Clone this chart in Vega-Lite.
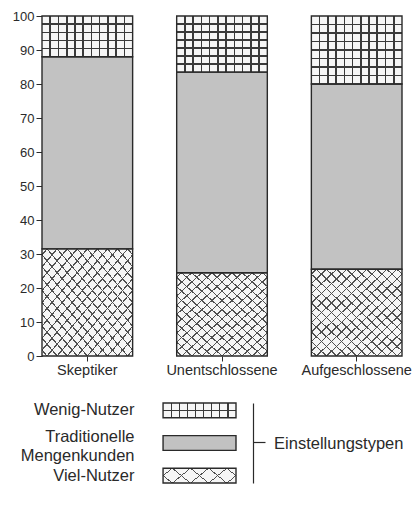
{
  "$schema": "https://vega.github.io/schema/vega-lite/v6.json",
  "background": "white",
  "padding": {"left": 12, "top": 10, "right": 0, "bottom": 5},
  "spacing": 24,
  "config": {
    "view": {"stroke": null},
    "font": "Liberation Sans",
    "axis": {"labelColor": "#2a2a2a", "titleColor": "#2a2a2a", "domainColor": "#2a2a2a", "tickColor": "#2a2a2a", "labelFont": "Liberation Sans", "titleFont": "Liberation Sans"}
  },
  "vconcat": [
    {
      "width": 360,
      "height": 340,
      "data": {"values": [
        {"group": "Skeptiker", "type": "Viel-Nutzer", "value": 31.5},
        {"group": "Skeptiker", "type": "Traditionelle Mengenkunden", "value": 56.5},
        {"group": "Skeptiker", "type": "Wenig-Nutzer", "value": 12},
        {"group": "Unentschlossene", "type": "Viel-Nutzer", "value": 24.5},
        {"group": "Unentschlossene", "type": "Traditionelle Mengenkunden", "value": 59},
        {"group": "Unentschlossene", "type": "Wenig-Nutzer", "value": 16.5},
        {"group": "Aufgeschlossene", "type": "Viel-Nutzer", "value": 25.5},
        {"group": "Aufgeschlossene", "type": "Traditionelle Mengenkunden", "value": 54.5},
        {"group": "Aufgeschlossene", "type": "Wenig-Nutzer", "value": 20}
      ]},
      "transform": [
        {"calculate": "indexof(['Viel-Nutzer','Traditionelle Mengenkunden','Wenig-Nutzer'], datum.type)", "as": "ord"},
        {"stack": "value", "groupby": ["group"], "sort": [{"field": "ord", "order": "ascending"}], "as": ["v0", "v1"]}
      ],
      "encoding": {
        "x": {
          "field": "group", "type": "nominal",
          "sort": ["Skeptiker", "Unentschlossene", "Aufgeschlossene"],
          "scale": {"paddingInner": 0.327, "paddingOuter": 0},
          "axis": {"title": null, "labelAngle": 0, "domain": false, "tickSize": 5, "labelPadding": 2, "labelFontSize": 14.5}
        },
        "y": {
          "field": "v0", "type": "quantitative",
          "scale": {"domain": [0, 100], "nice": false},
          "axis": {"title": null, "values": [0, 10, 20, 30, 40, 50, 60, 70, 80, 90, 100], "grid": false, "tickSize": 6, "labelPadding": 2, "labelFontSize": 13}
        },
        "y2": {"field": "v1"}
      },
      "layer": [
        {
          "mark": {"type": "bar"},
          "encoding": {
            "fill": {
              "field": "type", "type": "nominal",
              "scale": {"domain": ["Wenig-Nutzer", "Traditionelle Mengenkunden", "Viel-Nutzer"], "range": ["#f6f6f6", "#c2c2c2", "#f6f6f6"]},
              "legend": null
            }
          }
        },
        {
          "transform": [{"filter": "datum.type === 'Wenig-Nutzer'"}],
          "mark": {"type": "bar", "fill": {"gradient": "linear", "x1": 0, "y1": 0, "x2": 1, "y2": 0, "stops": [
            {"offset": 0, "color": "rgba(58,58,58,0)"},
            {"offset": 0.0819, "color": "rgba(58,58,58,0)"}, {"offset": 0.0819, "color": "#3a3a3a"}, {"offset": 0.0999, "color": "#3a3a3a"}, {"offset": 0.0999, "color": "rgba(58,58,58,0)"},
            {"offset": 0.1728, "color": "rgba(58,58,58,0)"}, {"offset": 0.1728, "color": "#3a3a3a"}, {"offset": 0.1908, "color": "#3a3a3a"}, {"offset": 0.1908, "color": "rgba(58,58,58,0)"},
            {"offset": 0.2637, "color": "rgba(58,58,58,0)"}, {"offset": 0.2637, "color": "#3a3a3a"}, {"offset": 0.2817, "color": "#3a3a3a"}, {"offset": 0.2817, "color": "rgba(58,58,58,0)"},
            {"offset": 0.3546, "color": "rgba(58,58,58,0)"}, {"offset": 0.3546, "color": "#3a3a3a"}, {"offset": 0.3726, "color": "#3a3a3a"}, {"offset": 0.3726, "color": "rgba(58,58,58,0)"},
            {"offset": 0.4455, "color": "rgba(58,58,58,0)"}, {"offset": 0.4455, "color": "#3a3a3a"}, {"offset": 0.4635, "color": "#3a3a3a"}, {"offset": 0.4635, "color": "rgba(58,58,58,0)"},
            {"offset": 0.5365, "color": "rgba(58,58,58,0)"}, {"offset": 0.5365, "color": "#3a3a3a"}, {"offset": 0.5545, "color": "#3a3a3a"}, {"offset": 0.5545, "color": "rgba(58,58,58,0)"},
            {"offset": 0.6274, "color": "rgba(58,58,58,0)"}, {"offset": 0.6274, "color": "#3a3a3a"}, {"offset": 0.6454, "color": "#3a3a3a"}, {"offset": 0.6454, "color": "rgba(58,58,58,0)"},
            {"offset": 0.7183, "color": "rgba(58,58,58,0)"}, {"offset": 0.7183, "color": "#3a3a3a"}, {"offset": 0.7363, "color": "#3a3a3a"}, {"offset": 0.7363, "color": "rgba(58,58,58,0)"},
            {"offset": 0.8092, "color": "rgba(58,58,58,0)"}, {"offset": 0.8092, "color": "#3a3a3a"}, {"offset": 0.8272, "color": "#3a3a3a"}, {"offset": 0.8272, "color": "rgba(58,58,58,0)"},
            {"offset": 0.9001, "color": "rgba(58,58,58,0)"}, {"offset": 0.9001, "color": "#3a3a3a"}, {"offset": 0.9181, "color": "#3a3a3a"}, {"offset": 0.9181, "color": "rgba(58,58,58,0)"},
            {"offset": 1, "color": "rgba(58,58,58,0)"}
          ]}}
        },
        {
          "transform": [{"filter": "datum.type === 'Wenig-Nutzer' && datum.group === 'Skeptiker'"}],
          "mark": {"type": "bar", "fill": {"gradient": "linear", "x1": 0, "y1": 0, "x2": 0, "y2": 1, "stops": [
            {"offset": 0, "color": "rgba(58,58,58,0)"},
            {"offset": 0.18, "color": "rgba(58,58,58,0)"}, {"offset": 0.18, "color": "#3a3a3a"}, {"offset": 0.22, "color": "#3a3a3a"}, {"offset": 0.22, "color": "rgba(58,58,58,0)"},
            {"offset": 0.38, "color": "rgba(58,58,58,0)"}, {"offset": 0.38, "color": "#3a3a3a"}, {"offset": 0.42, "color": "#3a3a3a"}, {"offset": 0.42, "color": "rgba(58,58,58,0)"},
            {"offset": 0.58, "color": "rgba(58,58,58,0)"}, {"offset": 0.58, "color": "#3a3a3a"}, {"offset": 0.62, "color": "#3a3a3a"}, {"offset": 0.62, "color": "rgba(58,58,58,0)"},
            {"offset": 0.78, "color": "rgba(58,58,58,0)"}, {"offset": 0.78, "color": "#3a3a3a"}, {"offset": 0.82, "color": "#3a3a3a"}, {"offset": 0.82, "color": "rgba(58,58,58,0)"},
            {"offset": 1, "color": "rgba(58,58,58,0)"}
          ]}}
        },
        {
          "transform": [{"filter": "datum.type === 'Wenig-Nutzer' && datum.group === 'Unentschlossene'"}],
          "mark": {"type": "bar", "fill": {"gradient": "linear", "x1": 0, "y1": 0, "x2": 0, "y2": 1, "stops": [
            {"offset": 0, "color": "rgba(58,58,58,0)"},
            {"offset": 0.1289, "color": "rgba(58,58,58,0)"}, {"offset": 0.1289, "color": "#3a3a3a"}, {"offset": 0.1569, "color": "#3a3a3a"}, {"offset": 0.1569, "color": "rgba(58,58,58,0)"},
            {"offset": 0.2717, "color": "rgba(58,58,58,0)"}, {"offset": 0.2717, "color": "#3a3a3a"}, {"offset": 0.2997, "color": "#3a3a3a"}, {"offset": 0.2997, "color": "rgba(58,58,58,0)"},
            {"offset": 0.4146, "color": "rgba(58,58,58,0)"}, {"offset": 0.4146, "color": "#3a3a3a"}, {"offset": 0.4426, "color": "#3a3a3a"}, {"offset": 0.4426, "color": "rgba(58,58,58,0)"},
            {"offset": 0.5574, "color": "rgba(58,58,58,0)"}, {"offset": 0.5574, "color": "#3a3a3a"}, {"offset": 0.5854, "color": "#3a3a3a"}, {"offset": 0.5854, "color": "rgba(58,58,58,0)"},
            {"offset": 0.7003, "color": "rgba(58,58,58,0)"}, {"offset": 0.7003, "color": "#3a3a3a"}, {"offset": 0.7283, "color": "#3a3a3a"}, {"offset": 0.7283, "color": "rgba(58,58,58,0)"},
            {"offset": 0.8431, "color": "rgba(58,58,58,0)"}, {"offset": 0.8431, "color": "#3a3a3a"}, {"offset": 0.8711, "color": "#3a3a3a"}, {"offset": 0.8711, "color": "rgba(58,58,58,0)"},
            {"offset": 1, "color": "rgba(58,58,58,0)"}
          ]}}
        },
        {
          "transform": [{"filter": "datum.type === 'Wenig-Nutzer' && datum.group === 'Aufgeschlossene'"}],
          "mark": {"type": "bar", "fill": {"gradient": "linear", "x1": 0, "y1": 0, "x2": 0, "y2": 1, "stops": [
            {"offset": 0, "color": "rgba(58,58,58,0)"},
            {"offset": 0.1135, "color": "rgba(58,58,58,0)"}, {"offset": 0.1135, "color": "#3a3a3a"}, {"offset": 0.1365, "color": "#3a3a3a"}, {"offset": 0.1365, "color": "rgba(58,58,58,0)"},
            {"offset": 0.2385, "color": "rgba(58,58,58,0)"}, {"offset": 0.2385, "color": "#3a3a3a"}, {"offset": 0.2615, "color": "#3a3a3a"}, {"offset": 0.2615, "color": "rgba(58,58,58,0)"},
            {"offset": 0.3635, "color": "rgba(58,58,58,0)"}, {"offset": 0.3635, "color": "#3a3a3a"}, {"offset": 0.3865, "color": "#3a3a3a"}, {"offset": 0.3865, "color": "rgba(58,58,58,0)"},
            {"offset": 0.4885, "color": "rgba(58,58,58,0)"}, {"offset": 0.4885, "color": "#3a3a3a"}, {"offset": 0.5115, "color": "#3a3a3a"}, {"offset": 0.5115, "color": "rgba(58,58,58,0)"},
            {"offset": 0.6135, "color": "rgba(58,58,58,0)"}, {"offset": 0.6135, "color": "#3a3a3a"}, {"offset": 0.6365, "color": "#3a3a3a"}, {"offset": 0.6365, "color": "rgba(58,58,58,0)"},
            {"offset": 0.7385, "color": "rgba(58,58,58,0)"}, {"offset": 0.7385, "color": "#3a3a3a"}, {"offset": 0.7615, "color": "#3a3a3a"}, {"offset": 0.7615, "color": "rgba(58,58,58,0)"},
            {"offset": 0.8635, "color": "rgba(58,58,58,0)"}, {"offset": 0.8635, "color": "#3a3a3a"}, {"offset": 0.8865, "color": "#3a3a3a"}, {"offset": 0.8865, "color": "rgba(58,58,58,0)"},
            {"offset": 1, "color": "rgba(58,58,58,0)"}
          ]}}
        },
        {
          "transform": [{"filter": "datum.type === 'Viel-Nutzer'"}],
          "mark": {"type": "bar", "fill": {"gradient": "linear", "x1": 0, "y1": 0, "x2": 1, "y2": 1, "stops": [
            {"offset": 0, "color": "rgba(80,80,80,0)"},
            {"offset": 0.0238, "color": "rgba(80,80,80,0)"}, {"offset": 0.0238, "color": "#505050"}, {"offset": 0.0318, "color": "#505050"}, {"offset": 0.0318, "color": "rgba(80,80,80,0)"},
            {"offset": 0.0793, "color": "rgba(80,80,80,0)"}, {"offset": 0.0793, "color": "#505050"}, {"offset": 0.0873, "color": "#505050"}, {"offset": 0.0873, "color": "rgba(80,80,80,0)"},
            {"offset": 0.1349, "color": "rgba(80,80,80,0)"}, {"offset": 0.1349, "color": "#505050"}, {"offset": 0.1429, "color": "#505050"}, {"offset": 0.1429, "color": "rgba(80,80,80,0)"},
            {"offset": 0.1904, "color": "rgba(80,80,80,0)"}, {"offset": 0.1904, "color": "#505050"}, {"offset": 0.1984, "color": "#505050"}, {"offset": 0.1984, "color": "rgba(80,80,80,0)"},
            {"offset": 0.246, "color": "rgba(80,80,80,0)"}, {"offset": 0.246, "color": "#505050"}, {"offset": 0.254, "color": "#505050"}, {"offset": 0.254, "color": "rgba(80,80,80,0)"},
            {"offset": 0.3016, "color": "rgba(80,80,80,0)"}, {"offset": 0.3016, "color": "#505050"}, {"offset": 0.3096, "color": "#505050"}, {"offset": 0.3096, "color": "rgba(80,80,80,0)"},
            {"offset": 0.3571, "color": "rgba(80,80,80,0)"}, {"offset": 0.3571, "color": "#505050"}, {"offset": 0.3651, "color": "#505050"}, {"offset": 0.3651, "color": "rgba(80,80,80,0)"},
            {"offset": 0.4127, "color": "rgba(80,80,80,0)"}, {"offset": 0.4127, "color": "#505050"}, {"offset": 0.4207, "color": "#505050"}, {"offset": 0.4207, "color": "rgba(80,80,80,0)"},
            {"offset": 0.4682, "color": "rgba(80,80,80,0)"}, {"offset": 0.4682, "color": "#505050"}, {"offset": 0.4762, "color": "#505050"}, {"offset": 0.4762, "color": "rgba(80,80,80,0)"},
            {"offset": 0.5238, "color": "rgba(80,80,80,0)"}, {"offset": 0.5238, "color": "#505050"}, {"offset": 0.5318, "color": "#505050"}, {"offset": 0.5318, "color": "rgba(80,80,80,0)"},
            {"offset": 0.5793, "color": "rgba(80,80,80,0)"}, {"offset": 0.5793, "color": "#505050"}, {"offset": 0.5873, "color": "#505050"}, {"offset": 0.5873, "color": "rgba(80,80,80,0)"},
            {"offset": 0.6349, "color": "rgba(80,80,80,0)"}, {"offset": 0.6349, "color": "#505050"}, {"offset": 0.6429, "color": "#505050"}, {"offset": 0.6429, "color": "rgba(80,80,80,0)"},
            {"offset": 0.6904, "color": "rgba(80,80,80,0)"}, {"offset": 0.6904, "color": "#505050"}, {"offset": 0.6984, "color": "#505050"}, {"offset": 0.6984, "color": "rgba(80,80,80,0)"},
            {"offset": 0.746, "color": "rgba(80,80,80,0)"}, {"offset": 0.746, "color": "#505050"}, {"offset": 0.754, "color": "#505050"}, {"offset": 0.754, "color": "rgba(80,80,80,0)"},
            {"offset": 0.8016, "color": "rgba(80,80,80,0)"}, {"offset": 0.8016, "color": "#505050"}, {"offset": 0.8096, "color": "#505050"}, {"offset": 0.8096, "color": "rgba(80,80,80,0)"},
            {"offset": 0.8571, "color": "rgba(80,80,80,0)"}, {"offset": 0.8571, "color": "#505050"}, {"offset": 0.8651, "color": "#505050"}, {"offset": 0.8651, "color": "rgba(80,80,80,0)"},
            {"offset": 0.9127, "color": "rgba(80,80,80,0)"}, {"offset": 0.9127, "color": "#505050"}, {"offset": 0.9207, "color": "#505050"}, {"offset": 0.9207, "color": "rgba(80,80,80,0)"},
            {"offset": 0.9682, "color": "rgba(80,80,80,0)"}, {"offset": 0.9682, "color": "#505050"}, {"offset": 0.9762, "color": "#505050"}, {"offset": 0.9762, "color": "rgba(80,80,80,0)"},
            {"offset": 1, "color": "rgba(80,80,80,0)"}
          ]}}
        },
        {
          "transform": [{"filter": "datum.type === 'Viel-Nutzer'"}],
          "mark": {"type": "bar", "fill": {"gradient": "linear", "x1": 1, "y1": 0, "x2": 0, "y2": 1, "stops": [
            {"offset": 0, "color": "rgba(80,80,80,0)"},
            {"offset": 0.0238, "color": "rgba(80,80,80,0)"}, {"offset": 0.0238, "color": "#505050"}, {"offset": 0.0318, "color": "#505050"}, {"offset": 0.0318, "color": "rgba(80,80,80,0)"},
            {"offset": 0.0793, "color": "rgba(80,80,80,0)"}, {"offset": 0.0793, "color": "#505050"}, {"offset": 0.0873, "color": "#505050"}, {"offset": 0.0873, "color": "rgba(80,80,80,0)"},
            {"offset": 0.1349, "color": "rgba(80,80,80,0)"}, {"offset": 0.1349, "color": "#505050"}, {"offset": 0.1429, "color": "#505050"}, {"offset": 0.1429, "color": "rgba(80,80,80,0)"},
            {"offset": 0.1904, "color": "rgba(80,80,80,0)"}, {"offset": 0.1904, "color": "#505050"}, {"offset": 0.1984, "color": "#505050"}, {"offset": 0.1984, "color": "rgba(80,80,80,0)"},
            {"offset": 0.246, "color": "rgba(80,80,80,0)"}, {"offset": 0.246, "color": "#505050"}, {"offset": 0.254, "color": "#505050"}, {"offset": 0.254, "color": "rgba(80,80,80,0)"},
            {"offset": 0.3016, "color": "rgba(80,80,80,0)"}, {"offset": 0.3016, "color": "#505050"}, {"offset": 0.3096, "color": "#505050"}, {"offset": 0.3096, "color": "rgba(80,80,80,0)"},
            {"offset": 0.3571, "color": "rgba(80,80,80,0)"}, {"offset": 0.3571, "color": "#505050"}, {"offset": 0.3651, "color": "#505050"}, {"offset": 0.3651, "color": "rgba(80,80,80,0)"},
            {"offset": 0.4127, "color": "rgba(80,80,80,0)"}, {"offset": 0.4127, "color": "#505050"}, {"offset": 0.4207, "color": "#505050"}, {"offset": 0.4207, "color": "rgba(80,80,80,0)"},
            {"offset": 0.4682, "color": "rgba(80,80,80,0)"}, {"offset": 0.4682, "color": "#505050"}, {"offset": 0.4762, "color": "#505050"}, {"offset": 0.4762, "color": "rgba(80,80,80,0)"},
            {"offset": 0.5238, "color": "rgba(80,80,80,0)"}, {"offset": 0.5238, "color": "#505050"}, {"offset": 0.5318, "color": "#505050"}, {"offset": 0.5318, "color": "rgba(80,80,80,0)"},
            {"offset": 0.5793, "color": "rgba(80,80,80,0)"}, {"offset": 0.5793, "color": "#505050"}, {"offset": 0.5873, "color": "#505050"}, {"offset": 0.5873, "color": "rgba(80,80,80,0)"},
            {"offset": 0.6349, "color": "rgba(80,80,80,0)"}, {"offset": 0.6349, "color": "#505050"}, {"offset": 0.6429, "color": "#505050"}, {"offset": 0.6429, "color": "rgba(80,80,80,0)"},
            {"offset": 0.6904, "color": "rgba(80,80,80,0)"}, {"offset": 0.6904, "color": "#505050"}, {"offset": 0.6984, "color": "#505050"}, {"offset": 0.6984, "color": "rgba(80,80,80,0)"},
            {"offset": 0.746, "color": "rgba(80,80,80,0)"}, {"offset": 0.746, "color": "#505050"}, {"offset": 0.754, "color": "#505050"}, {"offset": 0.754, "color": "rgba(80,80,80,0)"},
            {"offset": 0.8016, "color": "rgba(80,80,80,0)"}, {"offset": 0.8016, "color": "#505050"}, {"offset": 0.8096, "color": "#505050"}, {"offset": 0.8096, "color": "rgba(80,80,80,0)"},
            {"offset": 0.8571, "color": "rgba(80,80,80,0)"}, {"offset": 0.8571, "color": "#505050"}, {"offset": 0.8651, "color": "#505050"}, {"offset": 0.8651, "color": "rgba(80,80,80,0)"},
            {"offset": 0.9127, "color": "rgba(80,80,80,0)"}, {"offset": 0.9127, "color": "#505050"}, {"offset": 0.9207, "color": "#505050"}, {"offset": 0.9207, "color": "rgba(80,80,80,0)"},
            {"offset": 0.9682, "color": "rgba(80,80,80,0)"}, {"offset": 0.9682, "color": "#505050"}, {"offset": 0.9762, "color": "#505050"}, {"offset": 0.9762, "color": "rgba(80,80,80,0)"},
            {"offset": 1, "color": "rgba(80,80,80,0)"}
          ]}}
        },
        {
          "mark": {"type": "bar", "fill": "transparent", "stroke": "#2a2a2a", "strokeWidth": 1.4}
        }
      ]
    },
    {
      "width": 194,
      "height": 80,
      "data": {"values": [
        {"type": "Wenig-Nutzer"},
        {"type": "Traditionelle Mengenkunden"},
        {"type": "Viel-Nutzer"}
      ]},
      "resolve": {"axis": {"y": "independent"}},
      "encoding": {
        "x": {"datum": 0.624, "type": "quantitative", "scale": {"domain": [0, 1]}, "axis": null},
        "x2": {"datum": 1}
      },
      "layer": [
        {
          "mark": {"type": "rect"},
          "encoding": {
            "y": {
              "field": "type", "type": "nominal",
              "sort": ["Wenig-Nutzer", "Traditionelle Mengenkunden", "Viel-Nutzer"],
              "scale": {"paddingInner": 0.55, "paddingOuter": 0},
              "axis": {
                "title": null, "orient": "left", "offset": -121, "domain": false, "ticks": false, "labelPadding": 29,
                "labelFontSize": 16.5, "labelLineHeight": 19, "labelExpr": "split(datum.label, ' ')",
                "labelOffset": {"condition": {"test": "datum.value === 'Traditionelle Mengenkunden'", "value": -6}, "value": 0}
              }
            },
            "fill": {
              "field": "type", "type": "nominal",
              "scale": {"domain": ["Wenig-Nutzer", "Traditionelle Mengenkunden", "Viel-Nutzer"], "range": ["#f6f6f6", "#c2c2c2", "#f6f6f6"]},
              "legend": null
            }
          }
        },
        {
          "transform": [{"filter": "datum.type === 'Wenig-Nutzer'"}],
          "mark": {"type": "rect", "fill": {"gradient": "linear", "x1": 0, "y1": 0, "x2": 1, "y2": 0, "stops": [
            {"offset": 0, "color": "rgba(58,58,58,0)"},
            {"offset": 0.1021, "color": "rgba(58,58,58,0)"}, {"offset": 0.1021, "color": "#3a3a3a"}, {"offset": 0.1201, "color": "#3a3a3a"}, {"offset": 0.1201, "color": "rgba(58,58,58,0)"},
            {"offset": 0.2132, "color": "rgba(58,58,58,0)"}, {"offset": 0.2132, "color": "#3a3a3a"}, {"offset": 0.2312, "color": "#3a3a3a"}, {"offset": 0.2312, "color": "rgba(58,58,58,0)"},
            {"offset": 0.3243, "color": "rgba(58,58,58,0)"}, {"offset": 0.3243, "color": "#3a3a3a"}, {"offset": 0.3423, "color": "#3a3a3a"}, {"offset": 0.3423, "color": "rgba(58,58,58,0)"},
            {"offset": 0.4354, "color": "rgba(58,58,58,0)"}, {"offset": 0.4354, "color": "#3a3a3a"}, {"offset": 0.4534, "color": "#3a3a3a"}, {"offset": 0.4534, "color": "rgba(58,58,58,0)"},
            {"offset": 0.5466, "color": "rgba(58,58,58,0)"}, {"offset": 0.5466, "color": "#3a3a3a"}, {"offset": 0.5646, "color": "#3a3a3a"}, {"offset": 0.5646, "color": "rgba(58,58,58,0)"},
            {"offset": 0.6577, "color": "rgba(58,58,58,0)"}, {"offset": 0.6577, "color": "#3a3a3a"}, {"offset": 0.6757, "color": "#3a3a3a"}, {"offset": 0.6757, "color": "rgba(58,58,58,0)"},
            {"offset": 0.7688, "color": "rgba(58,58,58,0)"}, {"offset": 0.7688, "color": "#3a3a3a"}, {"offset": 0.7868, "color": "#3a3a3a"}, {"offset": 0.7868, "color": "rgba(58,58,58,0)"},
            {"offset": 0.8799, "color": "rgba(58,58,58,0)"}, {"offset": 0.8799, "color": "#3a3a3a"}, {"offset": 0.8979, "color": "#3a3a3a"}, {"offset": 0.8979, "color": "rgba(58,58,58,0)"},
            {"offset": 1, "color": "rgba(58,58,58,0)"}
          ]}},
          "encoding": {
            "y": {"field": "type", "type": "nominal", "sort": ["Wenig-Nutzer", "Traditionelle Mengenkunden", "Viel-Nutzer"], "axis": null}
          }
        },
        {
          "transform": [{"filter": "datum.type === 'Wenig-Nutzer'"}],
          "mark": {"type": "rect", "fill": {"gradient": "linear", "x1": 0, "y1": 0, "x2": 0, "y2": 1, "stops": [
            {"offset": 0, "color": "rgba(58,58,58,0)"},
            {"offset": 0.455, "color": "rgba(58,58,58,0)"}, {"offset": 0.455, "color": "#3a3a3a"}, {"offset": 0.545, "color": "#3a3a3a"}, {"offset": 0.545, "color": "rgba(58,58,58,0)"},
            {"offset": 1, "color": "rgba(58,58,58,0)"}
          ]}},
          "encoding": {
            "y": {"field": "type", "type": "nominal", "sort": ["Wenig-Nutzer", "Traditionelle Mengenkunden", "Viel-Nutzer"], "axis": null}
          }
        },
        {
          "transform": [{"filter": "datum.type === 'Viel-Nutzer'"}],
          "mark": {"type": "rect", "fill": {"gradient": "linear", "x1": 0, "y1": 0, "x2": 1.174, "y2": 0.2878, "stops": [
            {"offset": 0, "color": "rgba(80,80,80,0)"},
            {"offset": 0.093, "color": "rgba(80,80,80,0)"}, {"offset": 0.093, "color": "#505050"}, {"offset": 0.107, "color": "#505050"}, {"offset": 0.107, "color": "rgba(80,80,80,0)"},
            {"offset": 0.293, "color": "rgba(80,80,80,0)"}, {"offset": 0.293, "color": "#505050"}, {"offset": 0.307, "color": "#505050"}, {"offset": 0.307, "color": "rgba(80,80,80,0)"},
            {"offset": 0.493, "color": "rgba(80,80,80,0)"}, {"offset": 0.493, "color": "#505050"}, {"offset": 0.507, "color": "#505050"}, {"offset": 0.507, "color": "rgba(80,80,80,0)"},
            {"offset": 0.693, "color": "rgba(80,80,80,0)"}, {"offset": 0.693, "color": "#505050"}, {"offset": 0.707, "color": "#505050"}, {"offset": 0.707, "color": "rgba(80,80,80,0)"},
            {"offset": 0.893, "color": "rgba(80,80,80,0)"}, {"offset": 0.893, "color": "#505050"}, {"offset": 0.907, "color": "#505050"}, {"offset": 0.907, "color": "rgba(80,80,80,0)"},
            {"offset": 1, "color": "rgba(80,80,80,0)"}
          ]}},
          "encoding": {
            "y": {"field": "type", "type": "nominal", "sort": ["Wenig-Nutzer", "Traditionelle Mengenkunden", "Viel-Nutzer"], "axis": null}
          }
        },
        {
          "transform": [{"filter": "datum.type === 'Viel-Nutzer'"}],
          "mark": {"type": "rect", "fill": {"gradient": "linear", "x1": 1, "y1": 0, "x2": -0.174, "y2": 0.2878, "stops": [
            {"offset": 0, "color": "rgba(80,80,80,0)"},
            {"offset": 0.093, "color": "rgba(80,80,80,0)"}, {"offset": 0.093, "color": "#505050"}, {"offset": 0.107, "color": "#505050"}, {"offset": 0.107, "color": "rgba(80,80,80,0)"},
            {"offset": 0.293, "color": "rgba(80,80,80,0)"}, {"offset": 0.293, "color": "#505050"}, {"offset": 0.307, "color": "#505050"}, {"offset": 0.307, "color": "rgba(80,80,80,0)"},
            {"offset": 0.493, "color": "rgba(80,80,80,0)"}, {"offset": 0.493, "color": "#505050"}, {"offset": 0.507, "color": "#505050"}, {"offset": 0.507, "color": "rgba(80,80,80,0)"},
            {"offset": 0.693, "color": "rgba(80,80,80,0)"}, {"offset": 0.693, "color": "#505050"}, {"offset": 0.707, "color": "#505050"}, {"offset": 0.707, "color": "rgba(80,80,80,0)"},
            {"offset": 0.893, "color": "rgba(80,80,80,0)"}, {"offset": 0.893, "color": "#505050"}, {"offset": 0.907, "color": "#505050"}, {"offset": 0.907, "color": "rgba(80,80,80,0)"},
            {"offset": 1, "color": "rgba(80,80,80,0)"}
          ]}},
          "encoding": {
            "y": {"field": "type", "type": "nominal", "sort": ["Wenig-Nutzer", "Traditionelle Mengenkunden", "Viel-Nutzer"], "axis": null}
          }
        },
        {
          "mark": {"type": "rect", "fill": "transparent", "stroke": "#2a2a2a", "strokeWidth": 1.4},
          "encoding": {
            "y": {
              "field": "type", "type": "nominal",
              "sort": ["Wenig-Nutzer", "Traditionelle Mengenkunden", "Viel-Nutzer"],
              "axis": {
                "orient": "right", "offset": 17, "labels": false, "domain": true, "domainWidth": 1.2,
                "tickSize": 12, "tickWidth": 1.2,
                "tickColor": {"condition": {"test": "datum.value === 'Traditionelle Mengenkunden'", "value": "#2a2a2a"}, "value": "transparent"},
                "title": "Einstellungstypen", "titleAngle": 0, "titleAlign": "left", "titleBaseline": "middle",
                "titlePadding": 8, "titleFontSize": 16.5, "titleFontWeight": "normal"
              }
            }
          }
        }
      ]
    }
  ]
}
